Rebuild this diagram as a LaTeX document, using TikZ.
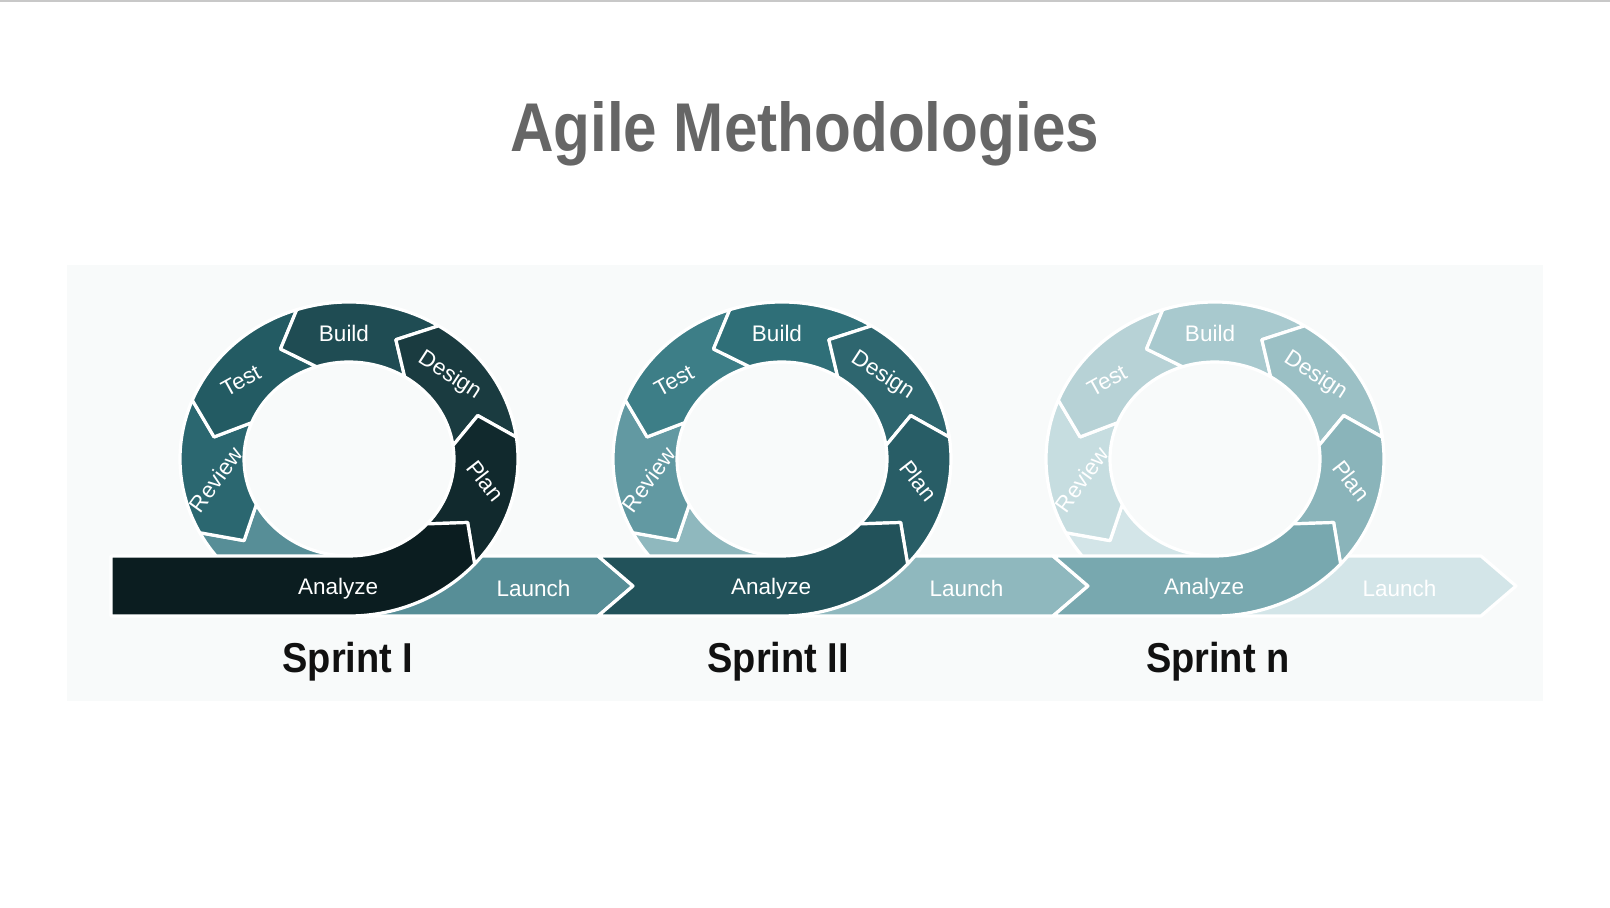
\documentclass[tikz,border=0pt]{standalone}
\usepackage{fontspec}
\usepackage{graphicx}
\setmainfont{Liberation Sans}
\usetikzlibrary{calc}

% page and panel
\definecolor{topline}{HTML}{C8C8C8}
\definecolor{panel}{HTML}{F8FAFA}
\definecolor{titlegray}{HTML}{666666}
\definecolor{sprintblack}{HTML}{111111}

% first sprint: darkest
\definecolor{onelaunch}{HTML}{578E97}
\definecolor{onereview}{HTML}{2B6770}
\definecolor{onetest}{HTML}{235B63}
\definecolor{onebuild}{HTML}{1F4C53}
\definecolor{onedesign}{HTML}{1A3B40}
\definecolor{oneplan}{HTML}{11292D}
\definecolor{oneanalyze}{HTML}{0B1D20}
% second sprint
\definecolor{twolaunch}{HTML}{8FB8BE}
\definecolor{tworeview}{HTML}{6299A2}
\definecolor{twotest}{HTML}{3D7E87}
\definecolor{twobuild}{HTML}{2F6F78}
\definecolor{twodesign}{HTML}{2E666F}
\definecolor{twoplan}{HTML}{285D66}
\definecolor{twoanalyze}{HTML}{22525A}
% last sprint: palest
\definecolor{threelaunch}{HTML}{D3E5E8}
\definecolor{threereview}{HTML}{C6DDE0}
\definecolor{threetest}{HTML}{B7D2D6}
\definecolor{threebuild}{HTML}{A8C9CE}
\definecolor{threedesign}{HTML}{9BC0C5}
\definecolor{threeplan}{HTML}{8AB4BA}
\definecolor{threeanalyze}{HTML}{78A8AF}

\tikzset{
  seg/.style={draw=white, line width=3.2pt, line join=round},
  lbl/.style={text=white, font=\fontsize{22.5}{26}\selectfont, inner sep=0pt,
              text height=16pt, text depth=0pt, anchor=center},
  sprintlbl/.style={text=sprintblack, font=\fontsize{38}{44}\selectfont\bfseries,
              inner sep=0pt, anchor=base},
  titlelbl/.style={text=titlegray, font=\fontsize{69}{80}\selectfont\bfseries,
              inner sep=0pt, anchor=base},
}

% one ring segment: chevron arrow between angles #2 and #3, tip ahead by 12 degrees
\newcommand\ringseg[3]{%
  \fill[#1, seg] (#2:169pt and 157pt)
    arc[start angle=#2, end angle=#3, x radius=169pt, y radius=157pt]
    -- ({#3+12}:137pt and 127pt) -- (#3:105pt and 97pt)
    arc[start angle=#3, end angle=#2, x radius=105pt, y radius=97pt]
    -- ({#2+12}:137pt and 127pt) -- cycle;}

% a whole sprint: #1 centre x, #2 colour prefix, #3 left edge of Analyze,
% #4 point of the notch at that edge, #5 tip of Launch, #6 node prefix
\newcommand\sprintloop[6]{%
\begin{scope}[shift={(#1,449)}]
  % Launch: lower-left quarter of the ring plus the band to the right
  \fill[#2launch, seg] (208:169pt and 157pt) -- (220:137pt and 127pt) -- (208:105pt and 97pt)
    arc[start angle=208, end angle=270, x radius=105pt, y radius=97pt]
    -- ({#5-35},-97) -- (#5,-127) -- ({#5-35},-157) -- (0,-157)
    arc[start angle=270, end angle=208, x radius=169pt, y radius=157pt] -- cycle;
  \ringseg{#2review}{158}{208}
  \ringseg{#2test}{108}{158}
  \ringseg{#2build}{58}{108}
  \ringseg{#2design}{8}{58}
  \ringseg{#2plan}{-42}{8}
  % Analyze: band from the left that bends up into the ring
  \fill[#2analyze, seg] (#3,-97) -- (0,-97)
    arc[start angle=270, end angle=318, x radius=105pt, y radius=97pt]
    -- (330:137pt and 127pt) -- (318:169pt and 157pt)
    arc[start angle=318, end angle=270, x radius=169pt, y radius=157pt]
    -- (#3,-157) -- (#4,-127) -- cycle;
  \node[lbl] (#6build) at (-5,125.6) {Build};
  \node[lbl, rotate=29] (#6test) at (-108.3,78.7) {Test};
  \node[lbl, rotate=-33] (#6design) at (101.7,85.2) {Design};
  \node[lbl, rotate=54] (#6review) at (-133.1,-20.5) {Review};
  \node[lbl, rotate=-52] (#6plan) at (136.3,-21.9) {Plan};
  \node[lbl] (#6analyze) at (-10.9,-128) {Analyze};
  \node[lbl] (#6launch) at (184.5,-129.5) {Launch};
\end{scope}}

\begin{document}
\begin{tikzpicture}[x=1pt, y=1pt]
  \useasboundingbox (0,0) rectangle (1610,908);
  \fill[white] (0,0) rectangle (1610,908);
  \fill[topline] (0,906.2) rectangle (1610,908);
  \fill[panel] (67,207) rectangle (1543,643);

  \node[titlelbl] (title) at (804.5,756) {\scalebox{0.873}[1]{Agile Methodologies}};

  \sprintloop{349}{one}{-238}{-238}{284}{a}
  \sprintloop{782}{two}{-184}{-149}{306}{b}
  \sprintloop{1215}{three}{-162}{-127}{301}{c}

  \node[sprintlbl] (sprinta) at (348,235.5) {\scalebox{1}[1.1]{Sprint I}};
  \node[sprintlbl] (sprintb) at (778.3,235.5) {\scalebox{1}[1.1]{Sprint II}};
  \node[sprintlbl] (sprintc) at (1217.8,235.5) {\scalebox{1}[1.1]{Sprint n}};
\end{tikzpicture}
\end{document}
